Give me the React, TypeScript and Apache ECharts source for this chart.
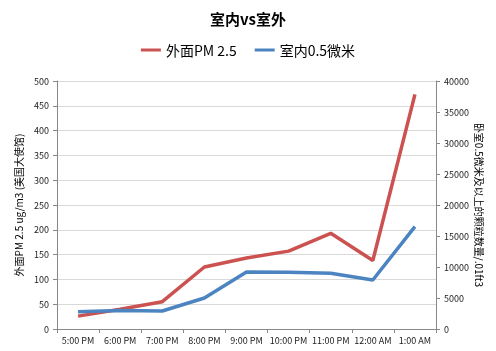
import React, { useEffect, useRef } from "react";
import * as echarts from "echarts";

const categories = ["5:00 PM", "6:00 PM", "7:00 PM", "8:00 PM", "9:00 PM", "10:00 PM", "11:00 PM", "12:00 AM", "1:00 AM"];
const outdoorPM25 = [26, 40, 55, 125, 143, 157, 193, 138, 473];
const indoorParticles = [2800, 3000, 2900, 5000, 9200, 9150, 9000, 7900, 16500];

const FONT = "'Noto Sans CJK SC', 'Noto Sans', sans-serif";
const RED = "#CB5250";
const BLUE = "#4C84C2";

export default function App() {
  const ref = useRef<HTMLDivElement>(null);
  useEffect(() => {
    const chart = echarts.init(ref.current!, null, { renderer: "svg" });
    chart.setOption({
      animation: false,
      textStyle: { fontFamily: FONT },
      title: {
        text: "室内vs室外",
        left: "center",
        top: 6,
        textStyle: { fontSize: 15, fontWeight: "bold", color: "#000", fontFamily: FONT },
      },
      legend: {
        top: 38,
        left: "center",
        itemWidth: 20,
        itemHeight: 3,
        itemGap: 18,
        itemTextGap: 4,
        icon: "rect",
        textStyle: { fontSize: 14, color: "#000", fontFamily: FONT },
        data: ["外面PM 2.5", "室内0.5微米"],
      },
      grid: { left: 57, right: 60, top: 81, bottom: 22 },
      xAxis: {
        type: "category",
        data: categories,
        boundaryGap: true,
        axisLine: { lineStyle: { color: "#888" } },
        axisTick: { show: true, alignWithLabel: false, length: 4, lineStyle: { color: "#888" } },
        axisLabel: { fontSize: 9, color: "#222", margin: 7, interval: 0 },
      },
      yAxis: [
        {
          type: "value",
          min: 0,
          max: 500,
          interval: 50,
          name: "外面PM 2.5 ug/m3 (美国大使馆)",
          nameLocation: "middle",
          nameGap: 33,
          nameRotate: 90,
          nameTextStyle: { fontSize: 10, color: "#000" },
          axisLine: { show: true, lineStyle: { color: "#888" } },
          axisTick: { show: true, length: 4, lineStyle: { color: "#888" } },
          axisLabel: { fontSize: 9, color: "#222", margin: 8 },
          splitLine: { show: true, lineStyle: { color: "#d9d9d9" } },
        },
        {
          type: "value",
          min: 0,
          max: 40000,
          interval: 5000,
          position: "right",
          name: "卧室0.5微米及以上的颗粒数量/.01ft3",
          nameLocation: "middle",
          nameGap: 39,
          nameMoveOverlap: false,
          nameRotate: -90,
          nameTextStyle: { fontSize: 10, color: "#000" },
          axisLine: { show: true, lineStyle: { color: "#888" } },
          axisTick: { show: true, length: 4, lineStyle: { color: "#888" } },
          axisLabel: { fontSize: 9, color: "#222", margin: 8, formatter: (v: number) => String(v) },
          splitLine: { show: false },
        },
      ],
      series: [
        {
          name: "外面PM 2.5",
          type: "line",
          yAxisIndex: 0,
          data: outdoorPM25,
          symbol: "none",
          lineStyle: { width: 3.5, color: RED },
          itemStyle: { color: RED },
        },
        {
          name: "室内0.5微米",
          type: "line",
          yAxisIndex: 1,
          data: indoorParticles,
          symbol: "none",
          lineStyle: { width: 3.5, color: BLUE },
          itemStyle: { color: BLUE },
        },
      ],
    });
    return () => chart.dispose();
  }, []);
  return <div ref={ref} style={{ position: "fixed", left: 0, top: 0, width: 496, height: 351 }} />;
}
